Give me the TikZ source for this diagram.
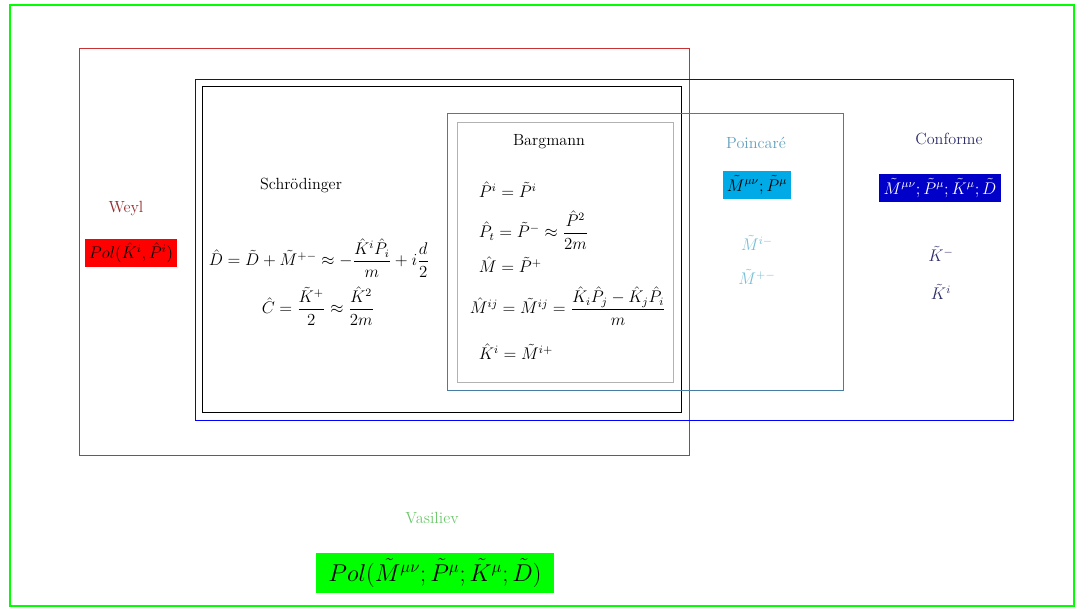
\documentclass[tikz,border=0pt]{standalone}
\usepackage{amsmath}
\definecolor{weylred}{RGB}{150,45,45}
\definecolor{weylcadre}{RGB}{200,50,50}
\definecolor{poinc}{RGB}{100,160,190}
\definecolor{poincbox}{RGB}{0,170,230}
\definecolor{poinctxt}{RGB}{120,190,215}
\definecolor{barg}{RGB}{70,125,165}
\definecolor{confnavy}{RGB}{45,45,105}
\definecolor{confbox}{RGB}{0,0,200}
\definecolor{vasgreen}{RGB}{110,200,110}
\tikzset{
  every node/.style={font=\fontsize{11.5}{14}\selectfont},
  titre/.style={},
  boite/.style={inner sep=3pt, text=black},
  cadre/.style={line width=0.7pt}
}
\begin{document}
\begin{tikzpicture}[x=0.025cm,y=-0.025cm]
\useasboundingbox (0,0) rectangle (1077,612);

% cadres
\draw[green, line width=0.8pt] (10,5) rectangle (1074,606);
\draw[cadre, weylcadre] (79,48) rectangle (689,455);
\draw[cadre, blue] (195,79) rectangle (1013,420);
\draw[cadre, black] (202,86) rectangle (681,412);
\draw[cadre, barg] (447,113) rectangle (843,390);
\draw[cadre, gray!60] (457,122) rectangle (673,382);

% Weyl
\node[titre, text=weylred] (weyl) at (126,209) {Weyl};
\node[boite, fill=red] (weylpol) at (131,253) {$Pol(\hat K^i,\hat P^i)$};

% Schrodinger
\node[titre] (schr) at (301,185) {Schr\"odinger};
\node (schrD) at (319,258) {$\hat D=\tilde D+\tilde M^{+-}\approx-\dfrac{\hat K^i\hat P_i}{m}+i\dfrac{d}{2}$};
\node (schrC) at (318,306) {$\hat C=\dfrac{\tilde K^+}{2}\approx\dfrac{\hat K^2}{2m}$};

% Bargmann
\node[titre] (barg) at (549,142) {Bargmann};
\node[anchor=west] (bargP) at (474,190) {$\hat P^i=\tilde P^i$};
\node[anchor=west] (bargPt) at (474,230) {$\hat P_t=\tilde P^-\approx\dfrac{\hat P^2}{2m}$};
\node[anchor=west] (bargM) at (474,265) {$\hat M=\tilde P^+$};
\node[anchor=west] (bargMij) at (465,306) {$\hat M^{ij}=\tilde M^{ij}=\dfrac{\hat K_i\hat P_j-\hat K_j\hat P_i}{m}$};
\node[anchor=west] (bargK) at (474,352) {$\hat K^i=\tilde M^{i+}$};

% Poincare
\node[titre, text=poinc] (poinc) at (756,143) {Poincar\'e};
\node[boite, fill=poincbox] (poincbox) at (757,185) {$\tilde M^{\mu\nu};\tilde P^\mu$};
\node[text=poinctxt] (poincMa) at (757,243) {$\tilde M^{i-}$};
\node[text=poinctxt] (poincMb) at (757,277) {$\tilde M^{+-}$};

% Conforme
\node[titre, text=confnavy] (conf) at (949,139) {Conforme};
\node[boite, fill=confbox, text=white] (confbox) at (940,188) {$\tilde M^{\mu\nu};\tilde P^\mu;\tilde K^\mu;\tilde D$};
\node[text=confnavy] (confKa) at (941,254) {$\tilde K^-$};
\node[text=confnavy] (confKb) at (941,292) {$\tilde K^i$};

% Vasiliev
\node[titre, text=vasgreen] (vas) at (432,518) {Vasiliev};
\node[boite, fill=green, font=\fontsize{18.5}{22}\selectfont, inner xsep=9pt, inner ysep=4pt] (vaspol) at (435,573) {$Pol(\tilde M^{\mu\nu};\tilde P^\mu;\tilde K^\mu;\tilde D)$};

\end{tikzpicture}
\end{document}
